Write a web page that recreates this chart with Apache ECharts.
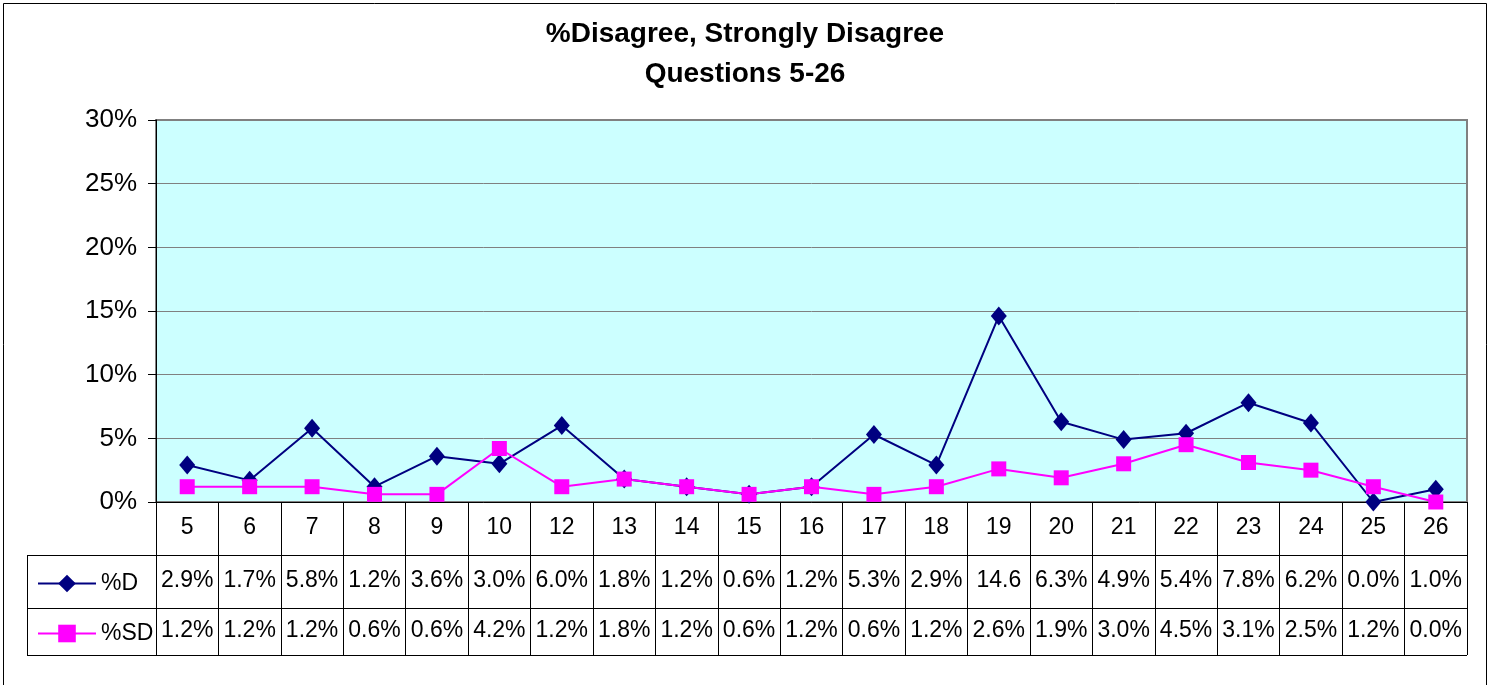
<!DOCTYPE html>
<html>
<head>
<meta charset="utf-8">
<script src="https://cdn.jsdelivr.net/npm/echarts@6.0.0/dist/echarts.min.js"></script>
<style>
html,body{margin:0;padding:0;background:#fff;}
#chart{width:1490px;height:685px;}
</style>
</head>
<body>
<div id="chart"></div>
<script>
const categories = ['5','6','7','8','9','10','12','13','14','15','16','17','18','19','20','21','22','23','24','25','26'];
const seriesD = [2.9,1.7,5.8,1.2,3.6,3.0,6.0,1.8,1.2,0.6,1.2,5.3,2.9,14.6,6.3,4.9,5.4,7.8,6.2,0.0,1.0];
const seriesSD = [1.2,1.2,1.2,0.6,0.6,4.2,1.2,1.8,1.2,0.6,1.2,0.6,1.2,2.6,1.9,3.0,4.5,3.1,2.5,1.2,0.0];
const yTicks = [0,5,10,15,20,25,30];

const FONT = "'Liberation Sans', Arial, sans-serif";
const fmt = v => v.toFixed(1) + '%';

const chart = echarts.init(document.getElementById('chart'), null, {renderer:'canvas'});

// layout constants (table structure)
const G = {left:156, top:120, right:1467, bottom:502};
const rowY = [555, 608, 655];
const tableLeft = 27;

const tableGraphics = [];
rowY.forEach(y => {
  tableGraphics.push({type:'line', silent:true, z:10,
    shape:{x1:tableLeft, y1:y+0.5, x2:G.right, y2:y+0.5},
    style:{stroke:'#000', lineWidth:1}});
});
tableGraphics.push({type:'line', silent:true, z:10,
  shape:{x1:tableLeft+0.5, y1:rowY[0], x2:tableLeft+0.5, y2:rowY[2]},
  style:{stroke:'#000', lineWidth:1}});
// outer frame
tableGraphics.push({type:'rect', silent:true, z:0,
  shape:{x:3.5, y:3.5, width:1483, height:700},
  style:{fill:null, stroke:'#000', lineWidth:1}});

const option = {
  animation:false,
  backgroundColor:'#fff',
  textStyle:{fontFamily:FONT},
  title:{
    text:'%Disagree, Strongly Disagree\nQuestions 5-26',
    left:'center', top:9,
    textStyle:{fontFamily:FONT, fontSize:28, fontWeight:'bold', color:'#000', lineHeight:40}
  },
  legend:{
    orient:'vertical', left:32, top:567,
    itemWidth:58, itemHeight:22, itemGap:27,
    textStyle:{fontFamily:FONT, fontSize:23, color:'#000'},
    data:['%D','%SD']
  },
  grid:{
    left:G.left, top:G.top, right:1490-G.right, bottom:685-G.bottom,
    show:true, backgroundColor:'#CCFFFF', borderColor:'#808080', borderWidth:2,
    containLabel:false
  },
  xAxis:[
    {
      type:'category', data:categories, position:'bottom', boundaryGap:true,
      axisLine:{show:true, lineStyle:{color:'#000', width:1}},
      axisTick:{show:true, interval:0, length:rowY[2]-G.bottom, lineStyle:{color:'#000', width:1}},
      axisLabel:{interval:0, margin:26, verticalAlign:'middle', fontFamily:FONT, fontSize:23, color:'#000'},
      splitLine:{show:false}
    },
    {
      type:'category', data:seriesD.map(fmt), position:'bottom', boundaryGap:true,
      axisLine:{show:false}, axisTick:{show:false}, splitLine:{show:false},
      axisLabel:{interval:0, margin:79, verticalAlign:'middle', fontFamily:FONT, fontSize:23, color:'#000',
        width:60, overflow:'truncate', ellipsis:''}
    },
    {
      type:'category', data:seriesSD.map(fmt), position:'bottom', boundaryGap:true,
      axisLine:{show:false}, axisTick:{show:false}, splitLine:{show:false},
      axisLabel:{interval:0, margin:129, verticalAlign:'middle', fontFamily:FONT, fontSize:23, color:'#000',
        width:60, overflow:'truncate', ellipsis:''}
    }
  ],
  yAxis:{
    type:'value', min:yTicks[0], max:yTicks[yTicks.length-1], interval:5,
    axisLine:{show:true, lineStyle:{color:'#000', width:1}},
    axisTick:{show:true, length:8, lineStyle:{color:'#000'}},
    axisLabel:{margin:19, formatter:'{value}%', fontFamily:FONT, fontSize:26, color:'#000'},
    splitLine:{show:true, lineStyle:{color:'#808080', width:1}}
  },
  series:[
    {
      name:'%D', type:'line', data:seriesD, xAxisIndex:0,
      symbol:'diamond', symbolSize:[16,19],
      itemStyle:{color:'#000080'},
      lineStyle:{color:'#000080', width:2}
    },
    {
      name:'%SD', type:'line', data:seriesSD, xAxisIndex:0,
      symbol:'rect', symbolSize:15,
      itemStyle:{color:'#FF00FF'},
      lineStyle:{color:'#FF00FF', width:2}
    }
  ],
  graphic:tableGraphics
};
chart.setOption(option);
</script>
</body>
</html>
